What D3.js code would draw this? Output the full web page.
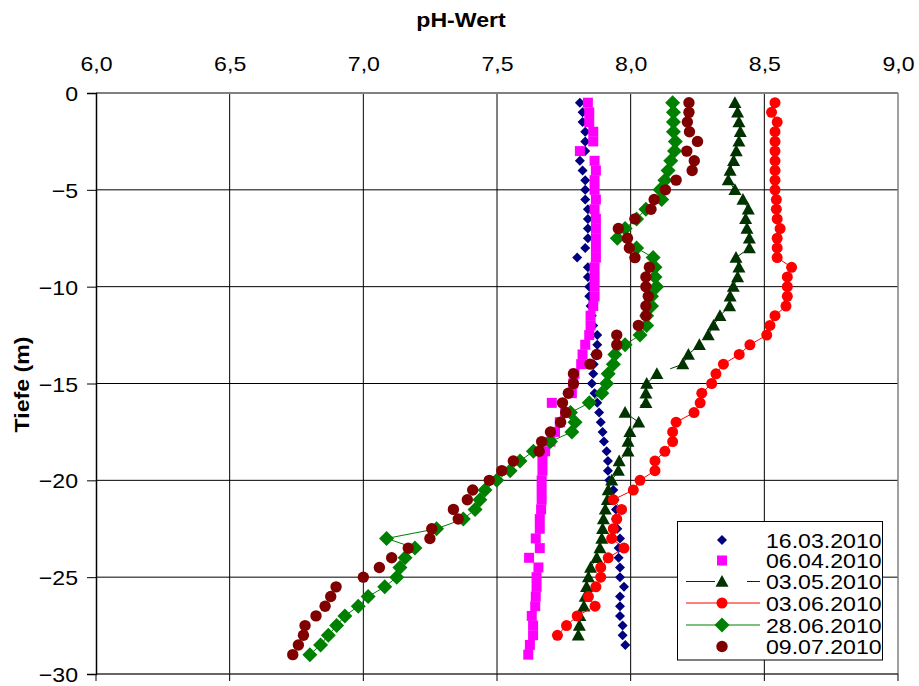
<!DOCTYPE html>
<html lang="de">
<head>
  <meta charset="utf-8" />
  <title>pH-Wert Tiefenprofil</title>
  <script src="https://d3js.org/d3.v7.min.js"></script>
  <style>
    body { margin: 0; background: #fff; }
    svg { display: block; font-family: "Liberation Sans", Arial, sans-serif; }
    .tick-label { font-size: 21px; fill: #000; }
    .title { font-size: 21px; font-weight: bold; fill: #000; }
    .legend-label { font-size: 21px; fill: #000; }
  </style>
</head>
<body>
<svg id="chart" width="919" height="686"></svg>

<script>
    // Tiefe (m), 0.5 m Schritte
    var depths = [-0.5, -1, -1.5, -2, -2.5, -3, -3.5, -4, -4.5, -5,
                  -5.5, -6, -6.5, -7, -7.5, -8, -8.5, -9, -9.5, -10,
                  -10.5, -11, -11.5, -12, -12.5, -13, -13.5, -14, -14.5, -15,
                  -15.5, -16, -16.5, -17, -17.5, -18, -18.5, -19, -19.5, -20,
                  -20.5, -21, -21.5, -22, -22.5, -23, -23.5, -24, -24.5, -25,
                  -25.5, -26, -26.5, -27, -27.5, -28, -28.5, -29];

    // pH-Werte je Messtag (von oben nach unten)
    var ph_160310 = [7.81, 7.82, 7.82, 7.83, 7.83, 7.83, 7.81, 7.82, 7.83, 7.83,
                     7.83, 7.84, 7.84, 7.84, 7.84, 7.83, 7.80, 7.84, 7.84, 7.845,
                     7.845, 7.85, 7.855, 7.86, 7.875, 7.875, 7.867, 7.862, 7.86, 7.855,
                     7.865, 7.875, 7.882, 7.888, 7.895, 7.90, 7.91, 7.915, 7.915, 7.92,
                     7.935, 7.94, 7.945, 7.945, 7.95, 7.96, 7.955, 7.955, 7.96, 7.96,
                     7.975, 7.96, 7.96, 7.96, 7.97, 7.97, 7.98];
    var ph_060410 = [7.84, 7.845, 7.845, 7.86, 7.86, 7.81, 7.865, 7.87, 7.865, 7.865,
                     7.87, 7.865, 7.87, 7.87, 7.87, 7.87, 7.87, 7.865, 7.865, 7.865,
                     7.865, 7.86, 7.85, 7.85, 7.845, 7.83, 7.82, 7.815, 7.79, 7.785,
                     7.78, 7.705, 7.755, 7.735, 7.717, 7.70, 7.68, 7.67, 7.67, 7.667,
                     7.667, 7.667, 7.665, 7.66, 7.66, 7.645, 7.66, 7.62, 7.655, 7.648,
                     7.648, 7.645, 7.643, 7.63, 7.635, 7.635, 7.623, 7.617];
    var ph_030510 = [8.39, 8.40, 8.405, 8.41, 8.405, 8.395, 8.385, 8.372, 8.365, 8.39,
                     8.42, 8.44, 8.43, 8.435, 8.444, 8.444, 8.394, 8.405, 8.40, 8.384,
                     8.372, 8.37, 8.334, 8.31, 8.29, 8.257, 8.216, 8.195, 8.098, 8.06,
                     8.057, 8.057, 7.979, 8.03, 7.997, 7.99, 7.99, 7.957, 7.954, 7.929,
                     7.916, 7.913, 7.905, 7.898, 7.895, 7.892, 7.885, 7.873, 7.85, 7.842,
                     7.835, 7.83, 7.825, 7.81, 7.808, 7.804];
    var ph_030610 = [8.54, 8.527, 8.548, 8.54, 8.54, 8.54, 8.54, 8.54, 8.54, 8.54,
                     8.545, 8.545, 8.548, 8.559, 8.548, 8.548, 8.548, 8.602, 8.586, 8.586,
                     8.586, 8.581, 8.54, 8.521, 8.509, 8.446, 8.406, 8.347, 8.319, 8.303,
                     8.266, 8.26, 8.237, 8.17, 8.157, 8.157, 8.128, 8.091, 8.091, 8.035,
                     8.01, 7.935, 7.966, 7.948, 7.935, 7.929, 7.975, 7.916, 7.888, 7.888,
                     7.87, 7.842, 7.867, 7.80, 7.76, 7.726];
    var ph_280610 = [8.157, 8.16, 8.16, 8.16, 8.167, 8.164, 8.15, 8.14, 8.128, 8.11,
                     8.116, 8.057, 8.022, 7.979, 7.95, 8.022, 8.084, 8.091, 8.091, 8.097,
                     8.078, 8.078, 8.06, 8.06, 8.035, 7.979, 7.941, 7.935, 7.916, 7.91,
                     7.892, 7.845, 7.775, 7.792, 7.78, 7.70, 7.636, 7.586, 7.549, 7.499,
                     7.455, 7.436, 7.418, 7.374, 7.274, 7.087, 7.193, 7.156, 7.137, 7.125,
                     7.08, 7.018, 6.981, 6.931, 6.90, 6.869, 6.84, 6.80];
    var ph_090710 = [8.218, 8.218, 8.212, 8.22, 8.25, 8.21, 8.238, 8.23, 8.17, 8.13,
                     8.088, 8.076, 8.016, 7.954, 7.988, 7.995, 8.016, 8.07, 8.057, 8.057,
                     8.066, 8.057, 8.057, 8.029, 7.948, 7.948, 7.873, 7.848, 7.786, 7.786,
                     7.767, 7.745, 7.757, 7.738, 7.70, 7.667, 7.658, 7.561, 7.518, 7.471,
                     7.409, 7.389, 7.337, 7.355, 7.256, 7.249, 7.168, 7.106, 7.06, 7.0,
                     6.898, 6.878, 6.857, 6.823, 6.782, 6.776, 6.757, 6.736];

    var seriesNames = ['16.03.2010', '06.04.2010', '03.05.2010', '03.06.2010', '28.06.2010', '09.07.2010'];
    var phTicks = [6.0, 6.5, 7.0, 7.5, 8.0, 8.5, 9.0];
    var depthTicks = [0, -5, -10, -15, -20, -25, -30];

    // look of each series, same order as seriesNames
    var styles = [
        { values: ph_160310, color: '#000080', shape: 'diamond', size: 5,   line: null },
        { values: ph_060410, color: '#ff00ff', shape: 'square',  size: 5,   line: null },
        { values: ph_030510, color: '#003300', shape: 'triangle', size: 6.5, line: '#003300', dash: '40,14' },
        { values: ph_030610, color: '#ff0000', shape: 'circle',  size: 5.5, line: '#ff0000' },
        { values: ph_280610, color: '#008000', shape: 'diamond', size: 7.5, line: '#008000' },
        { values: ph_090710, color: '#800000', shape: 'circle',  size: 5.7, line: null }
    ];

    var plotLeft = 96, plotRight = 898, plotTop = 93, plotBottom = 674;
    var x = d3.scaleLinear().domain([6, 9]).range([plotLeft, plotRight]);
    var y = d3.scaleLinear().domain([0, -30]).range([plotTop, plotBottom]);

    var svg = d3.select('#chart');

    // the original text is a bit wider than Arial
    function widen(sel, f) {
        sel.each(function() {
            var w = this.getComputedTextLength();
            d3.select(this).attr('textLength', w * f).attr('lengthAdjust', 'spacingAndGlyphs');
        });
    }

    // gridlines
    svg.append('g').selectAll('line').data(phTicks.slice(1, -1)).enter().append('line')
        .attr('x1', function(d) { return x(d); }).attr('x2', function(d) { return x(d); })
        .attr('y1', plotTop).attr('y2', plotBottom)
        .attr('stroke', '#000').attr('stroke-width', 1);
    svg.append('g').selectAll('line').data(depthTicks.slice(1, -1)).enter().append('line')
        .attr('x1', plotLeft).attr('x2', plotRight)
        .attr('y1', function(d) { return y(d); }).attr('y2', function(d) { return y(d); })
        .attr('stroke', '#000').attr('stroke-width', 1);

    // plot frame
    svg.append('line').attr('x1', plotLeft).attr('x2', plotRight).attr('y1', plotTop).attr('y2', plotTop)
        .attr('stroke', '#808080').attr('stroke-width', 2);
    svg.append('line').attr('x1', plotRight).attr('x2', plotRight).attr('y1', plotTop).attr('y2', plotBottom)
        .attr('stroke', '#808080').attr('stroke-width', 1.5);
    svg.append('line').attr('x1', plotLeft).attr('x2', plotRight).attr('y1', plotBottom).attr('y2', plotBottom)
        .attr('stroke', '#333').attr('stroke-width', 1.5);

    // left axis with ticks
    var yAxis = d3.axisLeft(y).tickValues(depthTicks).tickSize(9).tickPadding(9)
        .tickFormat(function(d) { return d3.format('d')(d); });
    var gy = svg.append('g').attr('transform', 'translate(' + plotLeft + ',0)').call(yAxis);
    gy.select('.domain').attr('stroke', '#000').attr('stroke-width', 1.5);
    gy.selectAll('.tick line').attr('stroke', '#000');
    gy.selectAll('.tick text').attr('class', 'tick-label').attr('font-size', null).attr('font-family', null)
        .attr('dy', '0.36em');
    widen(gy.selectAll('.tick text'), 1.1);

    // small ticks under the bottom line
    svg.append('g').selectAll('line').data(phTicks).enter().append('line')
        .attr('x1', function(d) { return x(d); }).attr('x2', function(d) { return x(d); })
        .attr('y1', plotBottom).attr('y2', plotBottom + 7)
        .attr('stroke', '#000');

    // pH labels along the top
    var xAxis = d3.axisTop(x).tickValues(phTicks).tickSize(0).tickPadding(22)
        .tickFormat(function(d) { return d3.format('.1f')(d).replace('.', ','); });
    var gx = svg.append('g').attr('transform', 'translate(0,' + plotTop + ')').call(xAxis);
    gx.select('.domain').remove();
    gx.selectAll('.tick text').attr('class', 'tick-label').attr('font-size', null).attr('font-family', null);
    widen(gx.selectAll('.tick text'), 1.1);

    // titles
    var xTitle = svg.append('text').attr('class', 'title').attr('x', 461).attr('y', 27)
        .attr('text-anchor', 'middle').text('pH-Wert');
    widen(xTitle, 1.1);
    var yTitle = svg.append('text').attr('class', 'title')
        .attr('transform', 'translate(29,' + ((plotTop + plotBottom) / 2 + 1) + ') rotate(-90)')
        .attr('text-anchor', 'middle').text('Tiefe (m)');
    widen(yTitle, 1.1);

    function markerPath(shape, s) {
        if (shape === 'diamond') return 'M0,' + (-s) + 'L' + s + ',0L0,' + s + 'L' + (-s) + ',0Z';
        if (shape === 'square') return 'M' + (-s) + ',' + (-s) + 'H' + s + 'V' + s + 'H' + (-s) + 'Z';
        if (shape === 'triangle') return 'M0,' + (-s) + 'L' + s + ',' + (s * 0.8) + 'L' + (-s) + ',' + (s * 0.8) + 'Z';
        return d3.arc()({ innerRadius: 0, outerRadius: s, startAngle: 0, endAngle: 2 * Math.PI });
    }

    var line = d3.line()
        .x(function(d) { return x(d[0]); })
        .y(function(d) { return y(d[1]); });

    styles.forEach(function(st) {
        var pts = st.values.map(function(v, i) { return [v, depths[i]]; });
        var g = svg.append('g');
        if (st.line) {
            g.append('path').datum(pts).attr('d', line)
                .attr('fill', 'none').attr('stroke', st.line).attr('stroke-width', 1)
                .attr('stroke-dasharray', st.dash || null);
        }
        g.selectAll('path.m').data(pts).enter().append('path').attr('class', 'm')
            .attr('transform', function(d) { return 'translate(' + x(d[0]) + ',' + y(d[1]) + ')'; })
            .attr('d', markerPath(st.shape, st.size))
            .attr('fill', st.color);
    });

    // legend
    var lg = svg.append('g');
    lg.append('rect').attr('x', 677.5).attr('y', 521.5).attr('width', 205).attr('height', 138.5)
        .attr('fill', '#fff').attr('stroke', '#000').attr('stroke-width', 1);
    var rows = [540, 560.5, 581.5, 603, 625, 646.5];
    styles.forEach(function(st, i) {
        var cy = rows[i];
        if (st.line) {
            lg.append('line').attr('x1', 686).attr('x2', 760).attr('y1', cy).attr('y2', cy)
                .attr('stroke', st.line).attr('stroke-width', 1.2)
                .attr('stroke-dasharray', st.dash ? '29,32,13' : null);
        }
        lg.append('path').attr('transform', 'translate(722,' + cy + ')')
            .attr('d', markerPath(st.shape, st.size)).attr('fill', st.color);
        var t = lg.append('text').attr('class', 'legend-label').attr('x', 766).attr('y', cy + 7.5)
            .text(seriesNames[i]);
        widen(t, 1.1);
    });
</script>

</body>
</html>
